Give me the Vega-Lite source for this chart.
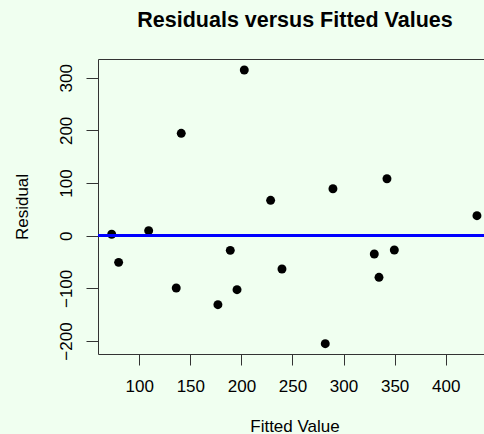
{
  "$schema": "https://vega.github.io/schema/vega-lite/v6.json",
  "width": 386,
  "height": 295,
  "autosize": {"type": "none"},
  "padding": {"left": 98, "top": 59, "right": 0, "bottom": 80},
  "background": "#f0fff0",
  "config": {
    "font": "Liberation Sans",
    "view": {"stroke": null, "fill": "#f0fff0"},
    "axis": {
      "grid": false,
      "domainColor": "#333333",
      "tickColor": "#333333",
      "labelColor": "black",
      "titleColor": "black",
      "labelFont": "Liberation Sans",
      "titleFont": "Liberation Sans",
      "labelFontSize": 17,
      "titleFontSize": 17,
      "titleFontWeight": "normal"
    }
  },
  "title": {
    "text": "Residuals versus Fitted Values",
    "font": "Liberation Sans",
    "fontSize": 21.5,
    "fontWeight": "bold",
    "color": "black",
    "anchor": "middle",
    "frame": "group",
    "baseline": "alphabetic",
    "offset": 11,
    "dx": 4
  },
  "data": {
    "values": [
      {"fitted": 73.0, "residual": 2.7},
      {"fitted": 79.8, "residual": -50.6},
      {"fitted": 109.2, "residual": 9.5},
      {"fitted": 136.2, "residual": -99.3},
      {"fitted": 141.1, "residual": 194.4},
      {"fitted": 177.0, "residual": -131.0},
      {"fitted": 189.1, "residual": -27.8},
      {"fitted": 195.7, "residual": -102.5},
      {"fitted": 202.8, "residual": 314.6},
      {"fitted": 228.6, "residual": 67.2},
      {"fitted": 239.7, "residual": -63.2},
      {"fitted": 282.1, "residual": -205.0},
      {"fitted": 289.6, "residual": 89.2},
      {"fitted": 330.1, "residual": -34.7},
      {"fitted": 334.7, "residual": -79.0},
      {"fitted": 342.5, "residual": 108.2},
      {"fitted": 349.7, "residual": -27.2},
      {"fitted": 430.6, "residual": 38.0}
    ]
  },
  "layer": [
    {
      "mark": {"type": "point", "filled": true, "shape": "circle", "size": 80, "color": "black", "opacity": 1},
      "encoding": {
        "x": {
          "field": "fitted",
          "type": "quantitative",
          "scale": {"domain": [59.6, 437.5], "nice": false, "zero": false},
          "axis": {
            "title": "Fitted Value",
            "values": [100, 150, 200, 250, 300, 350, 400],
            "domain": true,
            "tickSize": 11,
            "labelPadding": 26.7,
            "labelBaseline": "alphabetic",
            "labelFlush": false,
            "labelOverlap": false,
            "titleX": 196.5,
            "titleY": 77,
            "titleBaseline": "alphabetic"
          }
        },
        "y": {
          "field": "residual",
          "type": "quantitative",
          "scale": {"domain": [-224.6, 335.5], "nice": false, "zero": false},
          "axis": {
            "title": "Residual",
            "values": [-200, -100, 0, 100, 200, 300],
            "domain": true,
            "tickSize": 12,
            "labelAngle": 270,
            "labelAlign": "center",
            "labelBaseline": "alphabetic",
            "labelPadding": 14.3,
            "labelFlush": false,
            "labelOverlap": false,
            "titleAngle": 270,
            "titleX": -70.7,
            "titleY": 147.5,
            "titleBaseline": "alphabetic"
          }
        }
      }
    },
    {
      "mark": {"type": "rule", "color": "#0000ff", "strokeWidth": 2.5},
      "encoding": {
        "y": {"datum": 0, "type": "quantitative"},
        "x": {
          "datum": 59.6,
          "type": "quantitative",
          "axis": {
            "orient": "top",
            "title": null,
            "labels": false,
            "ticks": false,
            "domain": true
          }
        },
        "x2": {"datum": 437.5}
      }
    }
  ],
  "resolve": {"axis": {"x": "independent"}}
}
